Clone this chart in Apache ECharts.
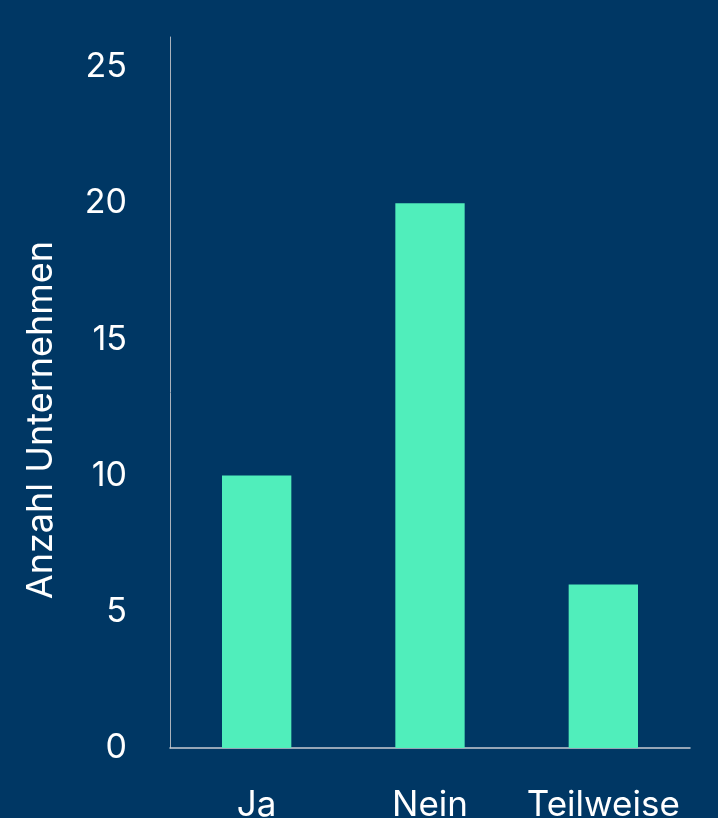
<!DOCTYPE html>
<html>
<head>
<meta charset="utf-8">
<script src="https://cdn.jsdelivr.net/npm/echarts@6/dist/echarts.min.js"></script>
<style>
  html, body { margin: 0; padding: 0; background: #003764; }
  #chart { width: 718px; height: 818px; }
</style>
</head>
<body>
<div id="chart"></div>
<script>
// Antworten (Kategorien) und Anzahl Unternehmen
const categories = ['Ja', 'Nein', 'Teilweise']
const counts = [10, 20, 6]
const yTicks = [0, 5, 10, 15, 20, 25]

const textColor = '#ffffff'
const fontFamily = 'Inter, "Noto Sans", sans-serif'

let myChart = echarts.init(document.getElementById('chart'))

let option = {
  backgroundColor: '#003764',
  grid: {
    left: 170,
    right: 28,
    top: 37,
    bottom: 70,
    outerBoundsMode: 'none',
    containLabel: false,
  },
  xAxis: {
    type: 'category',
    data: categories,
    axisLine: { lineStyle: { color: '#c8ccd2', width: 1.5 } },
    axisTick: { show: false },
    axisLabel: {
      interval: 0,
      color: textColor,
      fontSize: 35,
      fontFamily: fontFamily,
      margin: 40,
    },
  },
  yAxis: {
    type: 'value',
    min: yTicks[0],
    max: 26.1,
    interval: 5,
    splitLine: { show: false },
    axisLine: { show: true, lineStyle: { color: '#aab2bc', width: 1 } },
    axisTick: { show: false },
    axisLabel: {
      color: textColor,
      fontSize: 34,
      fontFamily: fontFamily,
      margin: 43,
      showMaxLabel: false,
      formatter: (v) => (yTicks.includes(v) ? String(v) : ''),
    },
  },
  graphic: [
    {
      type: 'text',
      x: 41,
      y: 420,
      rotation: Math.PI / 2,
      style: {
        text: 'Anzahl Unternehmen',
        fill: textColor,
        font: '36px Inter, "Noto Sans", sans-serif',
        align: 'center',
        verticalAlign: 'middle',
      },
    },
  ],
  series: [
    {
      type: 'bar',
      data: counts,
      barWidth: '40%',
      itemStyle: { color: '#50eebb' },
    },
  ],
}

myChart.setOption(option)
</script>
</body>
</html>
